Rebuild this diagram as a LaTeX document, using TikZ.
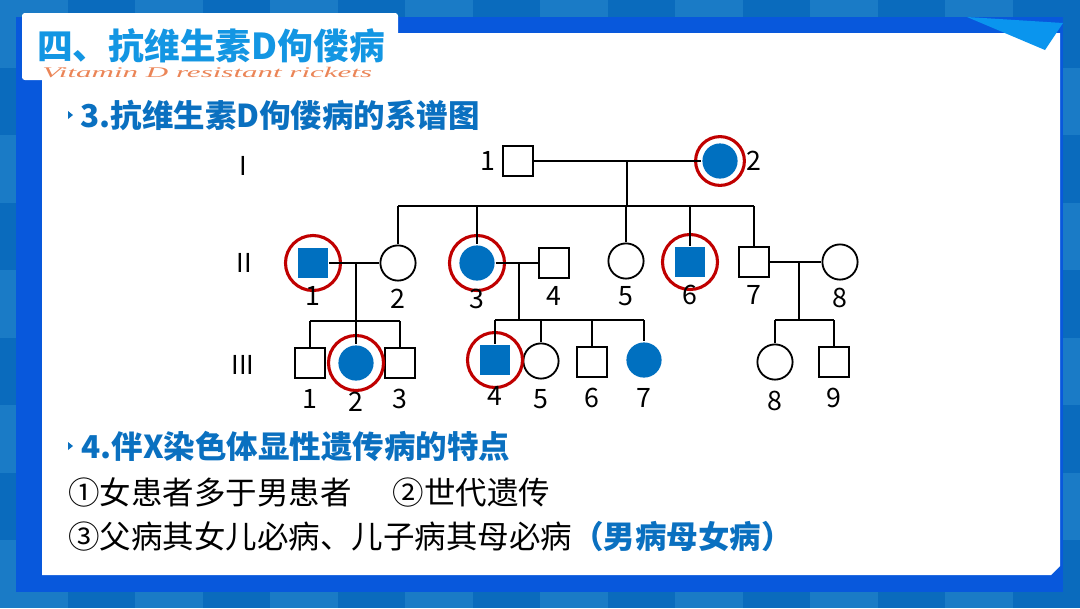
\documentclass[tikz,border=0pt]{standalone}
\usepackage{fontspec}
\setmainfont{Noto Sans CJK SC}
\newfontfamily\ornatefont{Liberation Serif}
\usetikzlibrary{positioning, calc}
\definecolor{BgBlue}{HTML}{0A6BBD}
\definecolor{BgTile}{HTML}{1A7BC6}
\definecolor{FrameBlue}{HTML}{0858DC}
\definecolor{FoldBlue}{HTML}{0A95EE}
\definecolor{HeadBlue}{HTML}{0A70C0}
\definecolor{TitleBlue}{HTML}{1396E3}
\definecolor{SickBlue}{HTML}{0070C0}
\definecolor{RingRed}{HTML}{C00000}
\definecolor{ScriptOrange}{HTML}{E8703A}
\tikzset{
  male/.style={rectangle, draw, line width=1.3pt, minimum size=0.76cm, inner sep=0pt},
  female/.style={circle, draw, line width=1.3pt, minimum size=0.88cm, inner sep=0pt},
  sick/.style={fill=SickBlue, draw=none},
  ring/.style={circle, draw=RingRed, line width=2.2pt, minimum size=1.375cm, inner sep=0pt},
  tag/.style={font=\fontsize{19}{19}\selectfont, inner sep=0pt},
  gen/.style={font=\fontsize{18.5}{18.5}\selectfont, inner sep=0pt},
  link/.style={line width=1.3pt},
  head/.style={font=\fontsize{22.4}{24}\selectfont\bfseries, text=HeadBlue, anchor=west, inner sep=0pt},
  body/.style={font=\fontsize{22.4}{24}\selectfont, anchor=west, inner sep=0pt},
  bullet/.style={fill=HeadBlue},
}

\begin{document}
\begin{tikzpicture}[x=0.025cm, y=-0.025cm]
    \useasboundingbox (0,0) rectangle (1080,608);
    % background tiles and card
    \fill[BgBlue] (0,0) rectangle (1080,608);
    \foreach \i in {0,...,15}{\foreach \j in {0,...,8}{
      \pgfmathtruncatemacro{\k}{mod(\i+\j,2)}
      \ifnum\k=0 \fill[BgTile] (\i*67.5,\j*67.5) rectangle ++(67.5,67.5);\fi}}
    \fill[FrameBlue] (16,17) rectangle (1063,592);
    \fill[white] (42,33) -- (1060,33) -- (1060,566) -- (1051,575) -- (42,575) -- cycle;
    \fill[FoldBlue] (967,17) -- (1063,23) -- (1045,50) -- cycle;
    \fill[white, rounded corners=2pt] (22,13) rectangle (398,80);

    % titles
    \node[anchor=west, inner sep=0pt, text=TitleBlue,
      font=\fontsize{25.4}{26}\selectfont\bfseries] (title) at (37,46) {四、抗维生素D佝偻病};
    \node[anchor=west, inner sep=0pt, text=ScriptOrange, opacity=0.85,
      font=\ornatefont\itshape\fontsize{10.5}{10.5}\selectfont] (sub) at (42,72)
      {\scalebox{2.1}[1]{Vitamin D resistant rickets}};
    \fill[bullet] (68,111) -- (73,115) -- (68,119) -- cycle;
    \node[head] (h3) at (80,115) {3.抗维生素D佝偻病的系谱图};

    % pedigree
    \node[gen] (g1) at (243,166) {I};
    \node[gen] (g2) at (244,263) {II};
    \node[gen] (g3) at (243,365) {III};

    \node[male] (I1) at (518,161) {};
    \node[female, sick] (I2) at (720,161) {};

    \node[male, sick] (II1) at (313,263) {};
    \node[female] (II2) at (398,263) {};
    \node[female, sick] (II3) at (477,263) {};
    \node[male] (II4) at (554,263) {};
    \node[female] (II5) at (626,261) {};
    \node[male, sick] (II6) at (690,262) {};
    \node[male] (II7) at (754,262) {};
    \node[female] (II8) at (840,262) {};

    \node[male] (III1) at (310,363) {};
    \node[female, sick] (III2) at (356,363) {};
    \node[male] (III3) at (400,363) {};
    \node[male, sick] (III4) at (495,360) {};
    \node[female] (III5) at (541,361) {};
    \node[male] (III6) at (592,362) {};
    \node[female, sick] (III7) at (644,360) {};
    \node[female] (III8) at (775,362) {};
    \node[male] (III9) at (834,362) {};

    \node[ring, minimum size=1.22cm] (rI2) at (I2) {};
    \foreach \p in {II1, II3, II6, III2, III4}
      \node[ring] (r\p) at (\p) {};

    \node[tag, left=0.15cm of I1] (tI1) {1};
    \node[tag, right=0.2cm of I2] (tI2) {2};
    \foreach \p/\t in {II1/1, II2/2, II3/3, II4/4, II5/5, II6/6, II7/7, II8/8}
      \node[tag, below=0.17cm of \p] (t\p) {\t};
    \foreach \p/\t in {III1/1, III2/2, III3/3, III4/4, III5/5, III6/6, III7/7, III8/8, III9/9}
      \node[tag, below=0.25cm of \p] (t\p) {\t};

    \coordinate (s1) at (627,206);
    \coordinate (s2) at (356,321);
    \coordinate (s3) at (519,320);
    \coordinate (s4) at (799,320);

    \draw[link] (I1) -- (I2);
    \draw[link] (s1 |- I1) -- (s1);
    \draw[link] (II2.north |- s1) -- (II7.north |- s1);
    \foreach \c in {II2, II3, II5, II6, II7}
      \draw[link] (\c.north |- s1) -- (\c.north);

    \draw[link] (II1) -- (II2);
    \draw[link] (s2 |- II1) -- (s2);
    \draw[link] (III1.north |- s2) -- (III3.north |- s2);
    \foreach \c in {III1, III2, III3}
      \draw[link] (\c.north |- s2) -- (\c.north);

    \draw[link] (II3) -- (II4);
    \draw[link] (s3 |- II3) -- (s3);
    \draw[link] (III4.north |- s3) -- (III7.north |- s3);
    \foreach \c in {III4, III5, III6, III7}
      \draw[link] (\c.north |- s3) -- (\c.north);

    \draw[link] (II7) -- (II8);
    \draw[link] (s4 |- II7) -- (s4);
    \draw[link] (III8.north |- s4) -- (III9.north |- s4);
    \foreach \c in {III8, III9}
      \draw[link] (\c.north |- s4) -- (\c.north);

    % features
    \fill[bullet] (68,442) -- (73,446) -- (68,450) -- cycle;
    \node[head] (h4) at (81,446) {4.伴X染色体显性遗传病的特点};
    \node[body] (f1) at (68,492) {①女患者多于男患者\hspace{1.3em}②世代遗传};
    \node[body] (f2) at (68,537) {③父病其女儿必病、儿子病其母必病\textcolor{HeadBlue}{\bfseries（男病母女病）}};
  \end{tikzpicture}
\end{document}
